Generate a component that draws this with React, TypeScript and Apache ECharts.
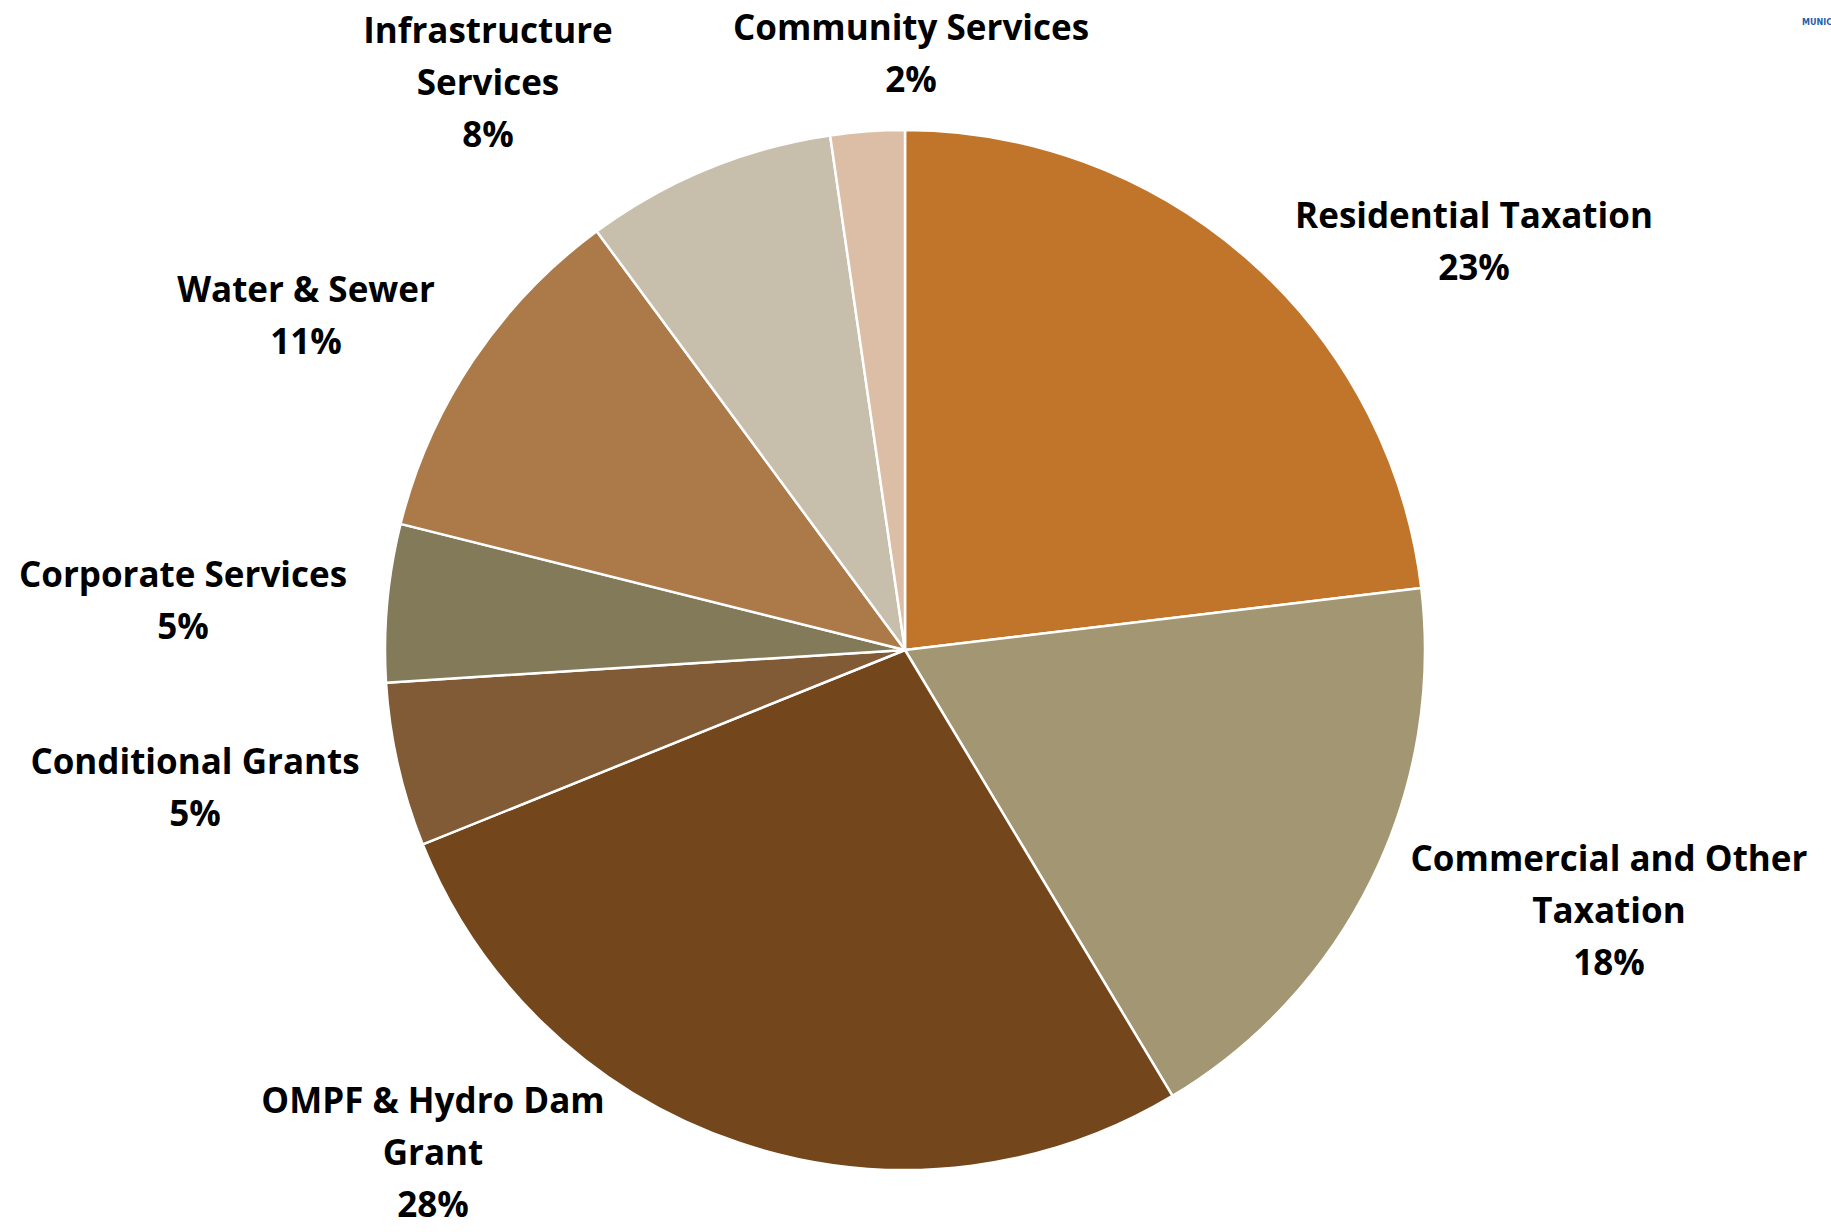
import React, { useEffect, useRef } from "react";
import * as echarts from "echarts";

const categories = [
  "Residential Taxation",
  "Commercial and Other Taxation",
  "OMPF & Hydro Dam Grant",
  "Conditional Grants",
  "Corporate Services",
  "Water & Sewer",
  "Infrastructure Services",
  "Community Services",
];
const labelNames = [
  "Residential Taxation",
  "Commercial and Other\nTaxation",
  "OMPF & Hydro Dam\nGrant",
  "Conditional Grants",
  "Corporate Services",
  "Water & Sewer",
  "Infrastructure\nServices",
  "Community Services",
];
const values = [23.1, 18.3, 27.5, 5.1, 4.9, 11.0, 7.8, 2.3];
const colors = ["#C0752A", "#A39673", "#74461B", "#815A36", "#837A5A", "#AB7A48", "#C7BEAC", "#DBBEA5"];
// label block centres (px)
const labelPos: [number, number][] = [
  [1474, 240],
  [1609, 909],
  [433, 1151],
  [195, 786],
  [183, 599],
  [306, 314],
  [488, 81],
  [911, 52],
];

export default function App() {
  const ref = useRef<HTMLDivElement>(null);
  useEffect(() => {
    document.body.style.margin = "0";
    const chart = echarts.init(ref.current!, null, { renderer: "svg" });
    chart.setOption({
      animation: false,
      backgroundColor: "#ffffff",
      graphic: [
        {
          type: "text",
          left: 1802,
          top: 18,
          style: { text: "MUNIC", fill: "#1F5FA8", font: "bold 8px 'DejaVu Sans'" },
        },
      ],
      series: [
        {
          type: "pie",
          center: [905, 650],
          radius: 520,
          startAngle: 90,
          clockwise: true,
          data: categories.map((c, i) => ({
            name: c,
            value: values[i],
            itemStyle: { color: colors[i] },
          })),
          itemStyle: { borderColor: "#ffffff", borderWidth: 2.5 },
          labelLine: { show: false },
          label: {
            show: true,
            position: "outside",
            color: "#000000",
            fontFamily: "Open Sans",
            fontWeight: "bold",
            fontSize: 35,
            lineHeight: 52,
            align: "center",
            formatter: (p: any) => labelNames[p.dataIndex] + "\n" + Math.round(p.percent) + "%",
          },
          labelLayout: (p: any) => ({
            x: labelPos[p.dataIndex][0],
            y: labelPos[p.dataIndex][1],
            align: "center",
            verticalAlign: "middle",
          }),
        },
      ],
    });
    return () => chart.dispose();
  }, []);
  return <div ref={ref} style={{ width: 1831, height: 1232 }} />;
}
